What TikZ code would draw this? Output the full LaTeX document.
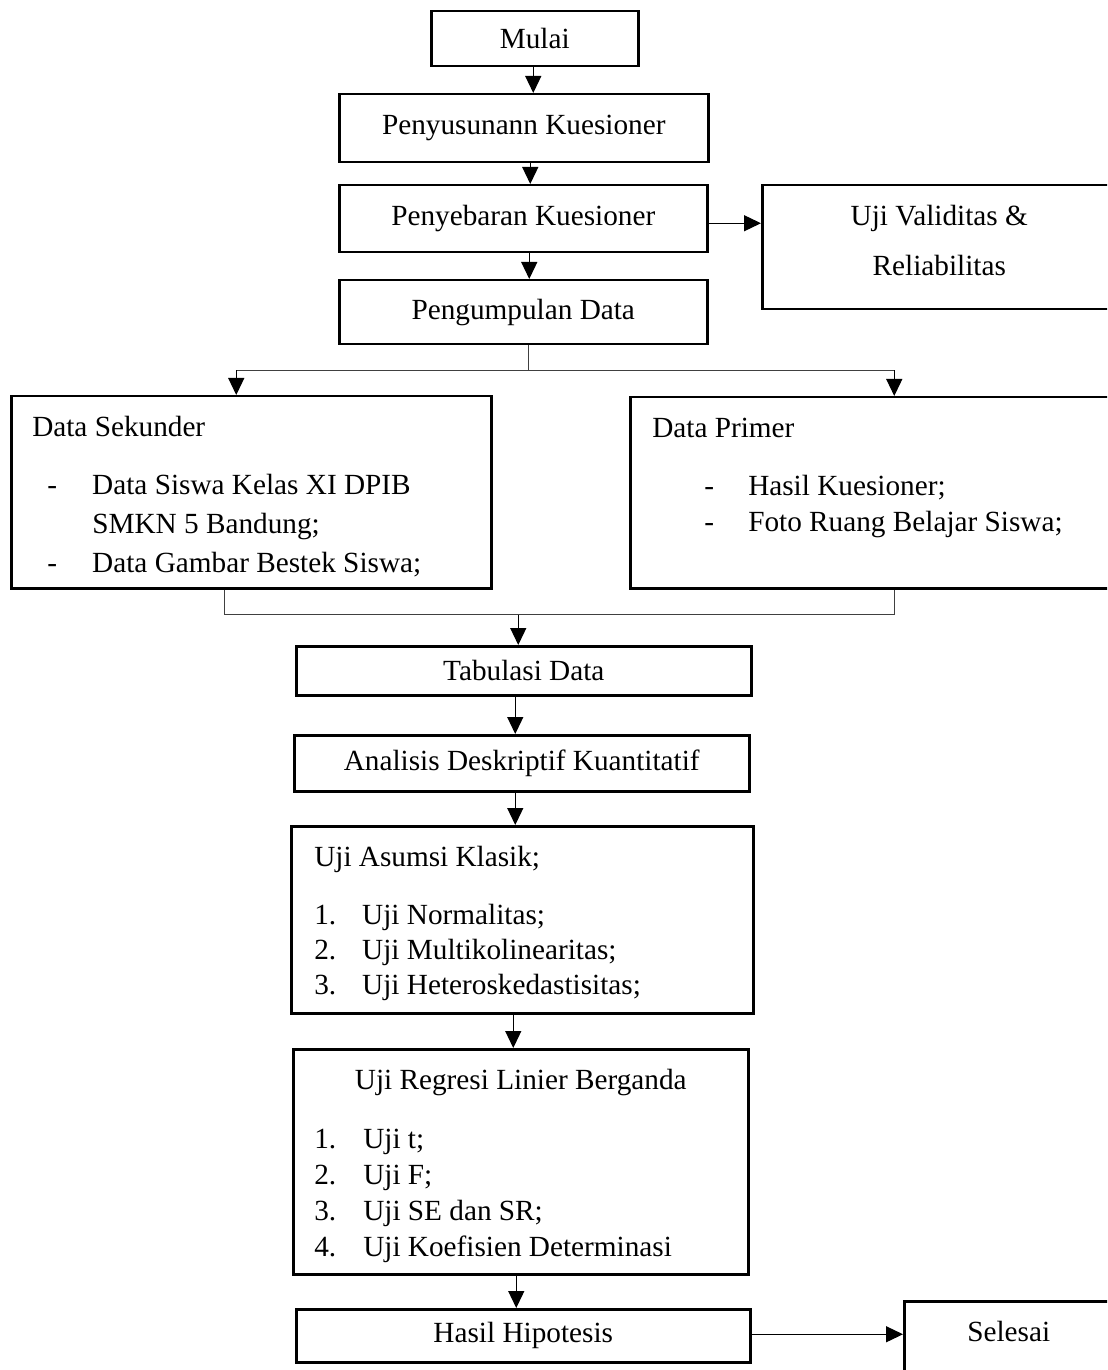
\documentclass[tikz,border=0pt]{standalone}
\usepackage{fontspec}
\setmainfont{Liberation Serif}
\usetikzlibrary{arrows.meta}

% box with text from the top: width, height, line spacing, lines
\newcommand{\boxtext}[4]{\parbox[c][#2][t]{#1}{\setlength{\baselineskip}{#3}\vspace*{6.2pt}\strut#4}}

\tikzset{
	flowbox/.style={draw=black, line width=1pt, inner sep=0pt, anchor=north west,
		font=\fontsize{11.7pt}{14pt}\selectfont},
	link/.style={draw=black!75, line width=0.5pt},
	arr/.style={draw=black, line width=0.5pt, -{Triangle[width=6.4pt,length=6.8pt]}}
}

\begin{document}
\begin{tikzpicture}[x=0.4pt, y=-0.4pt]
	\useasboundingbox (0,0) rectangle (1107,1370);
	\clip (0,0) rectangle (1107,1370);
	\node[flowbox, minimum width=82.8pt, minimum height=22pt] (mulai) at (430,10) {Mulai};
	\node[flowbox, minimum width=147.6pt, minimum height=27.2pt] (susun) at (338,93) {Penyusunann Kuesioner};
	\node[flowbox, minimum width=147.2pt, minimum height=26.8pt] (sebar) at (338,184) {Penyebaran Kuesioner};
	\node[flowbox] (uji) at (761,184) {\boxtext{141.6pt}{49.6pt}{20pt}{\makebox[141.6pt]{Uji Validitas \&}\\\makebox[141.6pt]{Reliabilitas}}};
	\node[flowbox, minimum width=147.2pt, minimum height=25.6pt] (kumpul) at (338,279) {Pengumpulan Data};
	\node[flowbox] (sekunder) at (10,395) {\boxtext{192pt}{76.8pt}{15.6pt}{%
		\hspace*{8.4pt}Data Sekunder\\[7.6pt]
		\hspace*{14.4pt}\makebox[18pt][l]{-}Data Siswa Kelas XI DPIB\\
		\hspace*{32.4pt}SMKN 5 Bandung;\\
		\hspace*{14.4pt}\makebox[18pt][l]{-}Data Gambar Bestek Siswa;}};
	\node[flowbox] (primer) at (629,396) {\boxtext{211.2pt}{76.4pt}{14.4pt}{%
		\hspace*{8.8pt}Data Primer\\[8.8pt]
		\hspace*{29.6pt}\makebox[17.6pt][l]{-}Hasil Kuesioner;\\
		\hspace*{29.6pt}\makebox[17.6pt][l]{-}Foto Ruang Belajar Siswa;}};
	\node[flowbox, minimum width=182pt, minimum height=19.6pt] (tabulasi) at (295,645) {Tabulasi Data};
	\node[flowbox, minimum width=182pt, minimum height=22.4pt] (analisis) at (293,734) {Analisis Deskriptif Kuantitatif};
	\node[flowbox] (asumsi) at (290,825) {\boxtext{184.8pt}{74.8pt}{14pt}{%
		\hspace*{9.2pt}Uji Asumsi Klasik;\\[9.2pt]
		\hspace*{9.2pt}\makebox[19.2pt][l]{1.}Uji Normalitas;\\
		\hspace*{9.2pt}\makebox[19.2pt][l]{2.}Uji Multikolinearitas;\\
		\hspace*{9.2pt}\makebox[19.2pt][l]{3.}Uji Heteroskedastisitas;}};
	\node[flowbox] (regresi) at (292,1048) {\boxtext{182pt}{90pt}{14.4pt}{%
		\makebox[182pt]{Uji Regresi Linier Berganda}\\[9.2pt]
		\hspace*{8.4pt}\makebox[19.6pt][l]{1.}Uji t;\\
		\hspace*{8.4pt}\makebox[19.6pt][l]{2.}Uji F;\\
		\hspace*{8.4pt}\makebox[19.6pt][l]{3.}Uji SE dan SR;\\
		\hspace*{8.4pt}\makebox[19.6pt][l]{4.}Uji Koefisien Determinasi}};
	\node[flowbox, minimum width=181.6pt, minimum height=21.2pt] (hasil) at (295,1308) {Hasil Hipotesis};
	\node[flowbox] (selesai) at (903,1300) {\boxtext{83.6pt}{40pt}{14pt}{\makebox[83.6pt]{Selesai}}};

	\draw[arr] ([xshift=-0.6pt]mulai.south) -- ([xshift=-0.6pt]mulai.south |- susun.north);
	\draw[arr] ([xshift=2.6pt]susun.south) -- ([xshift=2.6pt]susun.south |- sebar.north);
	\draw[arr] ([xshift=2.4pt]sebar.south) -- ([xshift=2.4pt]sebar.south |- kumpul.north);
	\draw[arr] ([yshift=-1.8pt]sebar.east) -- ([yshift=-1.8pt]sebar.east -| uji.west);

	\coordinate (sekIn) at ([xshift=-6pt]sekunder.north);
	\coordinate (sekOut) at ([xshift=-10.8pt]sekunder.south);
	\coordinate (tabIn) at ([xshift=-2.2pt]tabulasi.north);
	\draw[link] ([xshift=2pt]kumpul.south) -- ++(0,25) coordinate (split);
	\draw[link] (sekIn |- split) -- (split -| primer.north);
	\draw[arr] (sekIn |- split) -- (sekIn);
	\draw[arr] (split -| primer.north) -- (primer.north);
	\draw[link] (sekOut) -- ++(0,25) coordinate (merge) -- (merge -| primer.south) -- (primer.south);
	\draw[arr] (merge -| tabIn) -- (tabIn);

	\draw[arr] ([xshift=-3.4pt]tabulasi.south) -- ([xshift=-3.4pt]tabulasi.south |- analisis.north);
	\draw[arr] ([xshift=-2.6pt]analisis.south) -- ([xshift=-2.6pt]analisis.south |- asumsi.north);
	\draw[arr] ([xshift=-3.6pt]asumsi.south) -- ([xshift=-3.6pt]asumsi.south |- regresi.north);
	\draw[arr] ([xshift=-1.8pt]regresi.south) -- ([xshift=-1.8pt]regresi.south |- hasil.north);
	\draw[arr] ([yshift=0.6pt]hasil.east) -- ([yshift=0.6pt]hasil.east -| selesai.west);
\end{tikzpicture}
\end{document}
